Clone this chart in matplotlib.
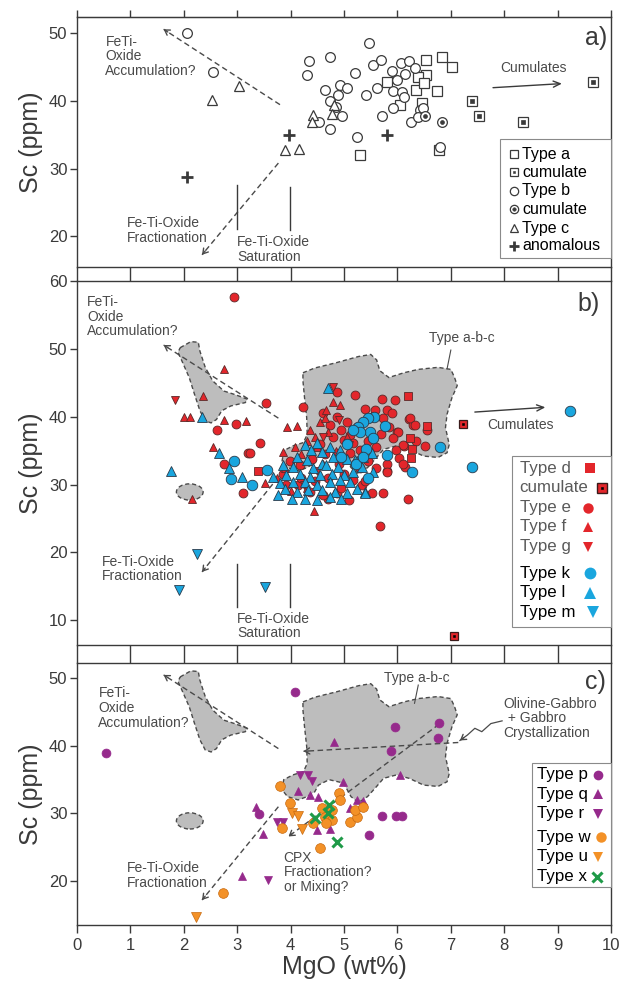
import numpy as np
import matplotlib.pyplot as plt
from matplotlib.patches import Polygon, Ellipse, Rectangle

plt.rcParams['font.family'] = ['Liberation Sans', 'DejaVu Sans']

INK = '#3a3a3a'
NOTE = '#4a4a4a'
RED = '#e3262b'
BLUE = '#1aa6de'
PURPLE = '#962a8c'
ORANGE = '#f39127'
GREEN = '#1f9a48'
FIELD = '#bdbdbd'

# ---------------- panel a: MgO (wt%), Sc (ppm) ----------------
type_a = [(6.53, 46.0), (6.84, 46.4), (7.02, 44.9), (5.81, 42.8), (6.53, 43.8),
          (6.39, 43.4), (6.34, 41.6), (6.50, 42.6), (6.75, 41.4), (6.46, 39.7),
          (6.05, 39.4), (5.29, 32.0), (6.77, 32.7)]
type_a_cum = [(7.39, 39.9), (7.52, 37.8), (8.35, 36.8), (9.67, 42.8)]
type_b = [(2.06, 50.0), (2.54, 44.2), (5.46, 48.5), (4.34, 45.9), (4.73, 46.4),
          (4.30, 43.7), (5.20, 44.1), (5.55, 45.3), (5.69, 46.0), (4.64, 41.6),
          (4.92, 42.3), (5.05, 41.8), (4.89, 40.8), (4.73, 40.0), (4.97, 37.7),
          (4.73, 35.8), (4.54, 36.8), (5.24, 34.7), (5.42, 40.8), (5.62, 41.8),
          (5.91, 41.4), (5.90, 44.3), (6.07, 45.5), (6.21, 45.8), (6.15, 43.9),
          (5.99, 43.0), (6.08, 41.2), (6.12, 40.5), (5.91, 38.9), (5.72, 37.8),
          (6.25, 36.8), (6.42, 38.6), (6.48, 38.9), (6.39, 37.6), (6.79, 33.2),
          (6.32, 44.8), (4.85, 39.0)]
type_b_cum = [(6.84, 36.8), (6.51, 37.7)]
type_c = [(2.53, 40.1), (3.04, 42.2), (4.42, 37.9), (4.40, 36.8), (4.82, 39.4),
          (4.77, 38.0), (3.90, 32.7), (4.15, 32.9)]
anomalous = [(3.96, 34.9), (5.81, 34.9), (2.06, 28.8)]
labels_a = ['Type a', 'cumulate', 'Type b', 'cumulate', 'Type c', 'anomalous']

# ---------------- panel b ----------------
type_d = [(6.19, 43.0), (3.38, 32.0), (6.23, 36.8), (6.28, 35.2), (6.26, 33.9), (6.55, 38.6)]
type_d_cum = [(7.23, 39.0), (7.05, 7.6)]
type_e = [(2.94, 57.7), (3.53, 42.1), (4.24, 41.4), (2.97, 39.0), (2.62, 38.0),
          (3.43, 36.1), (3.21, 34.7), (2.76, 33.1), (3.11, 28.7), (4.87, 43.7),
          (5.20, 43.2), (5.71, 42.6), (5.95, 42.5), (4.69, 27.9), (5.10, 27.7),
          (5.73, 28.8), (6.20, 27.9), (5.67, 23.9), (5.81, 32.0), (6.14, 32.6),
          (6.51, 35.7), (6.22, 39.7), (6.30, 38.8), (6.56, 38.0), (5.99, 37.7),
          (6.12, 35.7), (3.24, 34.6),
          (4.86, 40.0), (5.05, 39.3), (4.74, 38.8), (4.95, 38.0), (5.11, 37.3),
          (4.80, 37.0), (4.99, 36.6), (5.17, 36.1), (5.30, 35.1), (5.11, 34.6),
          (5.30, 32.4), (5.17, 30.6), (5.33, 29.9), (3.99, 33.4), (4.17, 32.9),
          (3.92, 29.9), (4.14, 29.9), (4.36, 28.9), (4.61, 28.4), (4.86, 28.7),
          (5.39, 41.2), (5.58, 41.0), (5.80, 41.0), (5.89, 40.6), (5.52, 40.0),
          (5.73, 39.8), (6.23, 39.8), (6.33, 38.8), (6.01, 37.8), (5.92, 36.8),
          (6.11, 35.8), (5.98, 35.1), (6.02, 33.9), (5.80, 33.1), (6.11, 33.0),
          (5.80, 31.9), (5.52, 28.7),
          (4.55, 36.0), (4.65, 34.5), (4.40, 33.8), (4.90, 33.0), (5.00, 31.5),
          (4.70, 31.0), (4.45, 30.5), (5.45, 33.5), (5.60, 35.5), (5.70, 37.5),
          (5.45, 36.5), (5.25, 38.5), (4.60, 40.5), (4.20, 31.0), (3.85, 31.5),
          (4.95, 29.5), (5.40, 30.5), (5.60, 32.5), (6.35, 36.5), (5.85, 38.5)]
type_f = [(2.76, 47.0), (2.35, 43.0), (2.00, 40.0), (2.12, 40.0), (2.76, 39.5),
          (3.17, 39.4), (2.54, 35.6), (2.15, 27.9), (4.43, 26.1), (3.94, 38.5),
          (4.12, 38.6), (3.51, 30.2), (4.67, 41.0), (4.55, 39.3), (4.64, 39.8),
          (4.36, 38.0), (3.86, 34.8), (4.08, 35.6), (4.92, 41.7), (4.80, 42.2),
          (4.45, 37.0), (4.30, 36.5), (4.70, 37.8), (4.20, 34.5), (4.50, 35.5),
          (3.90, 32.5), (4.00, 29.0), (4.60, 33.0), (4.85, 35.0), (5.05, 37.0),
          (4.30, 29.5), (3.75, 31.0)]
type_g = [(1.84, 42.5), (4.79, 44.4), (4.60, 37.0), (4.90, 39.5), (5.10, 35.8),
          (4.25, 30.0), (4.50, 32.0)]
type_k = [(9.24, 40.9), (7.39, 32.6), (6.80, 35.6), (6.27, 31.9), (5.81, 34.3),
          (2.94, 33.5), (2.88, 30.8), (3.28, 29.9), (3.55, 32.1), (5.57, 40.0),
          (5.76, 38.7), (5.45, 39.8), (5.36, 39.3), (5.27, 38.5), (5.48, 37.8),
          (5.30, 37.8), (5.17, 38.0), (5.55, 36.8), (5.42, 35.3), (5.45, 30.9),
          (5.23, 33.1), (5.05, 36.0), (4.95, 34.0), (5.35, 34.0)]
type_l = [(4.69, 44.2), (2.34, 40.0), (1.76, 32.0), (2.66, 34.7), (2.85, 32.5),
          (3.09, 31.1), (5.40, 28.9),
          (4.27, 35.9), (4.49, 36.1), (4.74, 35.6), (4.92, 35.1), (4.39, 35.1),
          (4.58, 34.8), (4.11, 34.1), (4.30, 33.6), (4.58, 33.1), (4.80, 34.1),
          (5.05, 33.8), (5.24, 33.4), (3.86, 32.9), (4.05, 32.6), (4.42, 32.4),
          (4.67, 32.9), (4.89, 32.6), (3.67, 31.1), (3.92, 31.4), (4.17, 31.6),
          (4.36, 31.1), (4.55, 31.4), (4.77, 31.6), (4.99, 31.4), (5.17, 31.9),
          (3.80, 30.2), (4.05, 30.4), (4.27, 30.4), (4.49, 29.9), (4.74, 30.4),
          (4.92, 30.6), (5.11, 30.4), (3.89, 29.4), (4.11, 28.9), (4.33, 29.2),
          (4.58, 29.2), (4.83, 28.9), (5.05, 28.7), (5.24, 29.4), (3.77, 28.4),
          (4.02, 27.9), (4.27, 27.9), (4.49, 27.7), (4.74, 28.2), (4.95, 27.9),
          (5.36, 34.1), (5.52, 34.6), (5.55, 31.9), (5.39, 28.7), (5.20, 33.6),
          (5.33, 32.6)]
type_m = [(2.25, 19.8), (1.91, 14.5), (3.51, 14.9)]
labels_b = ['Type d', 'cumulate', 'Type e', 'Type f', 'Type g',
            'Type k', 'Type l', 'Type m']

# ---------------- panel c ----------------
type_p = [(0.55, 38.9), (4.09, 48.0), (5.95, 42.8), (5.88, 39.3), (6.78, 43.4),
          (6.76, 41.1), (3.40, 29.9), (5.72, 29.6), (5.98, 29.7), (6.08, 29.7),
          (5.46, 26.8)]
type_q = [(4.82, 40.6), (6.05, 35.7), (4.98, 34.7), (4.14, 33.3), (4.36, 32.7),
          (4.52, 32.5), (3.36, 31.0), (3.49, 26.9), (3.09, 20.7), (5.24, 32.0),
          (5.36, 31.9), (4.49, 27.6), (4.74, 27.7), (5.11, 30.8)]
type_r = [(4.18, 35.7), (4.33, 35.7), (4.40, 34.8), (3.74, 28.7), (3.86, 28.8), (3.58, 20.1)]
type_w = [(3.80, 34.1), (3.99, 31.6), (4.90, 33.1), (4.92, 32.0), (4.58, 30.8),
          (4.77, 30.5), (4.64, 29.5), (4.77, 29.0), (4.67, 28.6), (4.42, 28.6),
          (5.11, 28.8), (5.24, 29.5), (5.20, 30.5), (5.36, 31.0), (3.84, 27.8),
          (4.55, 24.9), (2.73, 18.2)]
type_u = [(4.02, 30.0), (4.14, 29.6), (4.21, 27.7), (2.22, 14.7)]
type_x = [(4.72, 31.3), (4.69, 30.0), (4.45, 29.3), (4.86, 25.8)]
labels_c = ['Type p', 'Type q', 'Type r', 'Type w', 'Type u', 'Type x']

# outlined compositional fields (panels b and c)
field_abc = [(4.23, 46.5), (4.45, 47.2), (4.86, 48.0), (5.27, 48.9), (5.50, 49.2),
             (5.61, 48.4), (5.67, 46.8), (5.84, 45.8), (6.12, 46.5), (6.39, 47.0),
             (6.76, 47.3), (7.00, 47.0), (7.07, 45.8), (7.12, 44.6), (7.02, 42.8),
             (6.93, 40.4), (6.90, 38.4), (6.97, 35.9), (6.93, 34.7), (6.76, 34.0),
             (6.49, 34.2), (6.22, 35.2), (5.98, 35.7), (5.74, 35.2), (5.61, 34.0),
             (5.44, 32.5), (5.27, 31.6), (5.13, 32.5), (4.99, 34.5), (4.72, 35.0),
             (4.52, 34.2), (4.45, 33.2), (4.31, 32.5), (4.14, 32.0), (3.94, 32.5),
             (3.84, 33.5), (3.87, 35.0), (4.04, 35.7), (4.24, 36.2), (4.31, 37.4),
             (4.30, 39.9), (4.26, 42.8), (4.23, 45.3)]
field_acc = [(1.93, 50.2), (2.13, 51.1), (2.27, 51.0), (2.30, 49.7), (2.40, 47.3),
             (2.54, 45.3), (2.75, 43.8), (2.95, 43.3), (3.19, 42.6), (3.15, 42.1),
             (2.88, 41.6), (2.71, 40.9), (2.61, 39.6), (2.51, 39.1), (2.40, 39.4),
             (2.30, 40.9), (2.20, 43.3), (2.10, 45.8), (1.96, 48.3), (1.89, 49.5)]
field_small = (2.11, 28.9, 0.5, 2.4)  # centre x, centre y, width, height


def xy(pts):
    a = np.array(pts)
    return a[:, 0], a[:, 1]


def pts(ax, data, marker, ms, fc, ec, mew=0.7, z=3):
    x, y = xy(data)
    return ax.plot(x, y, ls='none', marker=marker, ms=ms, mfc=fc, mec=ec,
                   mew=mew, zorder=z)[0]


def head(ax, x0, y0, x1, y1, style='->'):
    p0 = ax.transData.transform((x0, y0))
    p1 = ax.transData.transform((x1, y1))
    d = (p1 - p0) / np.hypot(*(p1 - p0))
    off = -d * 5 * 0.72
    ax.annotate('', xy=(x1, y1), xytext=(off[0], off[1]), textcoords='offset points',
                arrowprops=dict(arrowstyle=style + ',head_length=0.35,head_width=0.22',
                                color=NOTE, lw=1, shrinkA=0, shrinkB=0), zorder=2)


def dashed(ax, x0, y0, x1, y1, arrow=True):
    ax.plot([x0, x1], [y0, y1], ls=(0, (4, 2.5)), color=NOTE, lw=1, zorder=2)
    if arrow:
        head(ax, x0, y0, x1, y1)


def solid_arrow(ax, x0, y0, x1, y1):
    ax.annotate('', xy=(x1, y1), xytext=(x0, y0),
                arrowprops=dict(arrowstyle='->,head_length=0.5,head_width=0.22',
                                color=INK, lw=1, shrinkA=0, shrinkB=0), zorder=2)


def note(ax, x, y, s, ha='left', **kw):
    ax.text(x, y, s, fontsize=10, color=NOTE, ha=ha, va='center',
            linespacing=1.05, zorder=2, **kw)


def fields(ax):
    ax.add_patch(Polygon(field_abc, closed=True, fc=FIELD, ec=NOTE, lw=1,
                         ls=(0, (3, 2)), zorder=1))
    ax.add_patch(Polygon(field_acc, closed=True, fc=FIELD, ec=NOTE, lw=1,
                         ls=(0, (3, 2)), zorder=1))
    cx, cy, w, h = field_small
    ax.add_patch(Ellipse((cx, cy), w, h, fc=FIELD, ec=NOTE, lw=1,
                         ls=(0, (3, 2)), zorder=1))


def style(ax, ylim, yticks, bot_len, top_len=0, labels=False):
    ax.set_xlim(0, 10)
    ax.set_ylim(*ylim)
    ax.set_xticks(range(11))
    ax.set_yticks(yticks)
    for s in ax.spines.values():
        s.set_color(INK)
        s.set_linewidth(1)
    ax.tick_params(axis='x', direction='out', length=bot_len, width=1, color=INK,
                   top=False, labelbottom=labels, labelsize=12, labelcolor=INK, pad=3)
    ax.tick_params(axis='y', direction='out', length=5, width=1, color=INK,
                   right=False, labelsize=12, labelcolor=INK, pad=2)
    ax.set_ylabel('Sc (ppm)', fontsize=18, color=INK, labelpad=4)
    if top_len:
        sec = ax.secondary_xaxis('top')
        sec.set_xticks(range(11))
        sec.tick_params(direction='out', length=top_len, width=1, color=INK,
                        labeltop=False)
        sec.spines['top'].set_color(INK)


def key_box(ax, x0, y0, y1, rows, labels, text_x, keys, fontsize, colors=None):
    """Legend drawn in axes fraction: box, left-aligned labels, keyed markers."""
    ax.add_patch(Rectangle((x0, y0), 1.0 - x0, y1 - y0, transform=ax.transAxes,
                           fc='white', ec='#8a8a8a', lw=0.8, zorder=5, clip_on=False))
    for i, (fy, lab) in enumerate(zip(rows, labels)):
        c = colors[i] if colors else 'black'
        ax.text(text_x, fy, lab, transform=ax.transAxes, fontsize=fontsize,
                color=c, ha='left', va='center', zorder=6)
        for (mx, marker, ms, fc, ec, mew) in keys[i]:
            ax.plot([mx], [fy], ls='none', marker=marker, ms=ms, mfc=fc, mec=ec,
                    mew=mew, transform=ax.transAxes, clip_on=False, zorder=6)


fig = plt.figure(figsize=(6.31, 9.83), dpi=100)
L, W = 0.1222, 0.8461
ax_a = fig.add_axes([L, 0.7284, W, 0.2546])
ax_b = fig.add_axes([L, 0.3438, W, 0.3700])
ax_c = fig.add_axes([L, 0.0590, W, 0.2668])

style(ax_a, (15.5, 52.35), [20, 30, 40, 50], bot_len=10, top_len=5)
style(ax_b, (6.3, 60.0), [10, 20, 30, 40, 50, 60], bot_len=12.7)
style(ax_c, (13.5, 52.3), [20, 30, 40, 50], bot_len=6, labels=True)
ax_c.set_xlabel('MgO (wt%)', fontsize=18, color=INK, labelpad=2)

# ---------------- panel a ----------------
ax = ax_a
pts(ax, type_a, 's', 6.5, 'white', INK, 0.9)
pts(ax, type_a_cum, 's', 6.5, 'white', INK, 0.9)
pts(ax, type_a_cum, 's', 2.2, INK, INK, 0.5, z=4)
pts(ax, type_b, 'o', 7, 'white', INK, 0.9)
pts(ax, type_b_cum, 'o', 7, 'white', INK, 0.9)
pts(ax, type_b_cum, 'o', 2.8, INK, INK, 0.5, z=4)
pts(ax, type_c, '^', 7, 'white', INK, 0.9)
pts(ax, anomalous, '+', 8, INK, INK, 2)

note(ax, 0.53, 46.5, 'FeTi-\nOxide\nAccumulation?')
dashed(ax, 3.80, 39.4, 1.62, 50.5)
note(ax, 8.54, 44.8, 'Cumulates', ha='center')
solid_arrow(ax, 7.79, 41.9, 9.08, 42.5)
note(ax, 0.94, 20.9, 'Fe-Ti-Oxide\nFractionation')
dashed(ax, 3.77, 30.8, 2.34, 17.3)
ax.plot([3.0, 3.0], [21.1, 27.5], color=INK, lw=1, zorder=2)
ax.plot([3.98, 3.98], [21.0, 27.3], color=INK, lw=1, zorder=2)
note(ax, 3.0, 18.1, 'Fe-Ti-Oxide\nSaturation')
ax.text(9.93, 49.2, 'a)', fontsize=18, color=INK, ha='right', va='center')
mk = 0.819
key_box(ax, 0.792, 0.035, 0.510,
        [0.451, 0.378, 0.304, 0.231, 0.155, 0.084], labels_a, 0.834,
        [[(mk, 's', 5.5, 'white', INK, 0.9)],
         [(mk, 's', 5.5, 'white', INK, 0.9), (mk, 's', 1.8, INK, INK, 0.4)],
         [(mk, 'o', 6, 'white', INK, 0.9)],
         [(mk, 'o', 6, 'white', INK, 0.9), (mk, 'o', 2.5, INK, INK, 0.4)],
         [(mk, '^', 6, 'white', INK, 0.9)],
         [(mk, '+', 7.5, INK, INK, 2)]], 11.5)

# ---------------- panel b ----------------
ax = ax_b
fields(ax)
note(ax, 0.19, 54.8, 'FeTi-\nOxide\nAccumulation?')
dashed(ax, 3.77, 39.8, 1.62, 50.6)
note(ax, 7.21, 51.7, 'Type a-b-c', ha='center')
ax.plot([7.00, 6.93], [49.85, 47.1], color=NOTE, lw=0.8, zorder=2)
note(ax, 8.31, 38.8, 'Cumulates', ha='center')
solid_arrow(ax, 7.45, 40.7, 8.77, 41.4)
note(ax, 0.46, 17.55, 'Fe-Ti-Oxide\nFractionation')
dashed(ax, 3.77, 31.1, 2.34, 17.1)
ax.plot([3.0, 3.0], [11.9, 18.3], color=INK, lw=1, zorder=2)
ax.plot([3.98, 3.98], [11.9, 18.3], color=INK, lw=1, zorder=2)
note(ax, 3.0, 9.1, 'Fe-Ti-Oxide\nSaturation')
ax.text(9.78, 56.7, 'b)', fontsize=18, color=INK, ha='right', va='center')

RE = '#5a2a2a'
BE = '#2a3a4a'
pts(ax, type_e, 'o', 6.4, RED, RE, 0.6)
pts(ax, type_f, '^', 6.4, RED, RE, 0.6)
pts(ax, type_g, 'v', 6.4, RED, RE, 0.6)
pts(ax, type_d, 's', 6.0, RED, RE, 0.6)
pts(ax, type_d_cum, 's', 6.0, RED, '#3a1a1a', 0.9)
pts(ax, type_d_cum, 's', 1.8, 'black', 'black', 0.4, z=4)
pts(ax, type_l, '^', 7.0, BLUE, BE, 0.6)
pts(ax, type_k, 'o', 7.6, BLUE, BE, 0.6)
pts(ax, type_m, 'v', 7.0, BLUE, BE, 0.6)
key_box(ax, 0.814, 0.050, 0.520,
        [0.486, 0.433, 0.378, 0.325, 0.270, 0.197, 0.144, 0.090], labels_b, 0.829,
        [[(0.961, 's', 7, RED, 'none', 0)],
         [(0.983, 's', 7, RED, '#3a1a1a', 1.0), (0.983, 's', 1.8, 'black', 'black', 0.4)],
         [(0.957, 'o', 7.5, RED, 'none', 0)],
         [(0.957, '^', 7.5, RED, 'none', 0)],
         [(0.957, 'v', 7.5, RED, 'none', 0)],
         [(0.961, 'o', 8.5, BLUE, 'none', 0)],
         [(0.961, '^', 8.5, BLUE, 'none', 0)],
         [(0.966, 'v', 8.5, BLUE, 'none', 0)]], 12.2,
        colors=['#5a5a5a'] * 5 + ['black'] * 3)

# ---------------- panel c ----------------
ax = ax_c
fields(ax)
note(ax, 6.37, 50.0, 'Type a-b-c', ha='center')
ax.plot([6.39, 6.32], [49.0, 46.3], color=NOTE, lw=0.8, zorder=2)
note(ax, 0.40, 45.6, 'FeTi-\nOxide\nAccumulation?')
dashed(ax, 3.77, 39.6, 1.62, 50.5)
note(ax, 7.99, 44.1, 'Olivine-Gabbro\n + Gabbro\nCrystallization')
wave_x = [7.96, 7.75, 7.58, 7.45, 7.31, 7.17]
wave_y = [43.7, 43.3, 42.1, 42.6, 41.6, 40.8]
ax.plot(wave_x, wave_y, color=NOTE, lw=0.9, zorder=2)
head(ax, wave_x[-2], wave_y[-2], wave_x[-1], wave_y[-1])
dashed(ax, 7.14, 40.5, 4.24, 39.2)
dashed(ax, 6.78, 43.2, 3.96, 26.6)
note(ax, 3.87, 21.3, 'CPX\nFractionation?\nor Mixing?')
note(ax, 0.93, 20.85, 'Fe-Ti-Oxide\nFractionation')
dashed(ax, 3.77, 31.0, 2.34, 17.2)
ax.text(9.9, 49.5, 'c)', fontsize=18, color=INK, ha='right', va='center')

OE = '#c86a10'
pts(ax, type_p, 'o', 6.4, PURPLE, PURPLE, 0.5)
pts(ax, type_q, '^', 6.4, PURPLE, PURPLE, 0.5)
pts(ax, type_r, 'v', 6.4, PURPLE, PURPLE, 0.5)
pts(ax, type_w, 'o', 7.0, ORANGE, OE, 0.5)
pts(ax, type_u, 'v', 6.8, ORANGE, OE, 0.5)
pts(ax, type_x, 'x', 6.5, GREEN, GREEN, 2.2, z=4)
key_box(ax, 0.8515, 0.146, 0.6165,
        [0.572, 0.499, 0.425, 0.334, 0.260, 0.184], labels_c, 0.861,
        [[(0.976, 'o', 7, PURPLE, 'none', 0)],
         [(0.976, '^', 7, PURPLE, 'none', 0)],
         [(0.976, 'v', 7, PURPLE, 'none', 0)],
         [(0.981, 'o', 7.5, ORANGE, 'none', 0)],
         [(0.976, 'v', 7, ORANGE, 'none', 0)],
         [(0.973, 'x', 6.5, GREEN, GREEN, 2.2)]], 12.2)

fig.savefig('out.png', dpi=100)
